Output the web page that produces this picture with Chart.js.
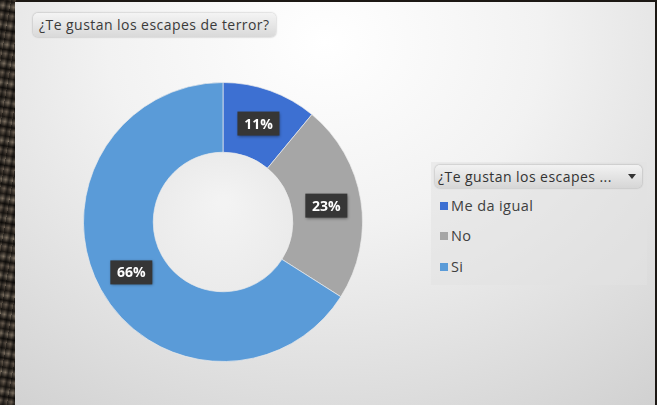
<!DOCTYPE html>
<html lang="es">
<head>
  <meta charset="UTF-8">
  <title>¿Te gustan los escapes de terror?</title>
  <script src="https://cdn.jsdelivr.net/npm/chart.js"></script>
  <style>
    html, body {
      margin: 0;
      padding: 0;
      width: 657px;
      height: 405px;
      overflow: hidden;
      background: #1c1814;
      font-family: "Open Sans", "Noto Sans", sans-serif;
    }
    #marco {
      position: absolute;
      left: 0; top: 0;
      width: 16px; height: 405px;
      background:
        repeating-linear-gradient(100deg, rgba(0,0,0,0.5) 0px, rgba(0,0,0,0) 4px, rgba(0,0,0,0.6) 7px, rgba(0,0,0,0) 11px),
        repeating-linear-gradient(10deg, #2a241e 0px, #6b5f52 5px, #1a1612 9px, #7e7263 14px, #221d18 19px);
    }
    #hoja {
      position: absolute;
      left: 15px; top: 2px;
      width: 640px; height: 403px;
      background: radial-gradient(ellipse 620px 520px at 310px 40px, #ffffff 0%, #f2f2f2 35%, #dcdcdc 70%, #c9c9c9 100%);
    }
    #titulo {
      position: absolute;
      left: 18px; top: 11px;
      height: 24px;
      padding: 0 6px;
      line-height: 24px;
      font-size: 14px;
      letter-spacing: 0.45px;
      color: #3a3a3a;
      border-radius: 5px;
      background: linear-gradient(#f4f4f4, #d9d9d9);
      box-shadow: 0 0 2px rgba(0,0,0,0.35);
    }
    #caja {
      position: absolute;
      left: 68px; top: 80px;
      width: 280px; height: 280px;
    }
    #leyenda {
      position: absolute;
      left: 416px; top: 160px;
      width: 216px; height: 123px;
      background: rgba(225,225,225,0.55);
    }
    #cabecera {
      position: absolute;
      left: 4px; top: 3px;
      width: 207px; height: 23px;
      line-height: 23px;
      font-size: 14px;
      letter-spacing: 0.45px;
      color: #333;
      border-radius: 5px;
      background: linear-gradient(#f2f2f2, #d6d6d6);
      box-shadow: 0 0 2px rgba(0,0,0,0.35);
      box-sizing: border-box;
      padding-left: 3px;
      white-space: nowrap;
    }
    #cabecera .flecha {
      position: absolute;
      right: 6px; top: 9px;
      width: 0; height: 0;
      border-left: 4px solid transparent;
      border-right: 4px solid transparent;
      border-top: 5px solid #333;
    }
    .item {
      position: absolute;
      left: 9px;
      font-size: 14.5px;
      letter-spacing: 0.4px;
      color: #404040;
      line-height: 18px;
    }
    .item span.cuadro {
      display: inline-block;
      width: 8px; height: 8px;
      margin-right: 3px;
      vertical-align: 1px;
    }
  </style>
</head>
<body>
  <div id="marco"></div>
  <div id="hoja">
    <div id="titulo">¿Te gustan los escapes de terror?</div>
    <div id="caja"><canvas id="grafico"></canvas></div>
    <div id="leyenda">
      <div id="cabecera">¿Te gustan los escapes ... <span class="flecha"></span></div>
    </div>
  </div>

  <script>
    const categorias = ['Me da igual', 'No', 'Si'];
    const porcentajes = [11, 23, 66];
    const colores = ['#3d70d2', '#a6a6a6', '#5a9bd8'];

    // etiquetas oscuras en el centro de cada sector
    const etiquetasPlugin = {
      id: 'etiquetas',
      afterDatasetsDraw(chart) {
        const c = chart.ctx;
        const arcos = chart.getDatasetMeta(0).data;
        c.save();
        c.font = 'bold 14px "Open Sans", "Noto Sans", sans-serif';
        c.textAlign = 'center';
        c.textBaseline = 'middle';
        arcos.forEach((arco, i) => {
          const p = arco.tooltipPosition();
          const texto = porcentajes[i] + '%';
          const w = 42, h = 24;
          c.shadowColor = 'rgba(0,0,0,0.45)';
          c.shadowBlur = 3;
          c.shadowOffsetX = 1;
          c.shadowOffsetY = 1;
          c.fillStyle = '#363636';
          c.fillRect(p.x - w / 2, p.y - h / 2, w, h);
          c.shadowColor = 'transparent';
          c.fillStyle = '#ffffff';
          c.fillText(texto, p.x, p.y + 1);
        });
        c.restore();
      }
    };

    // agujero central claro
    const agujeroPlugin = {
      id: 'agujero',
      beforeDatasetsDraw(chart) {
        const arco = chart.getDatasetMeta(0).data[0];
        if (!arco) return;
        const c = chart.ctx;
        const g = c.createRadialGradient(arco.x, arco.y - 20, 5, arco.x, arco.y, arco.innerRadius);
        g.addColorStop(0, '#f3f3f3');
        g.addColorStop(1, '#ebebeb');
        c.save();
        c.beginPath();
        c.arc(arco.x, arco.y, arco.innerRadius, 0, Math.PI * 2);
        c.fillStyle = g;
        c.fill();
        c.restore();
      }
    };

    const grafico = new Chart(document.getElementById('grafico'), {
      type: 'doughnut',
      data: {
        labels: categorias,
        datasets: [{
          data: porcentajes,
          backgroundColor: colores,
          borderColor: 'rgba(235,235,235,0.7)',
          borderWidth: 1,
          hoverOffset: 0
        }]
      },
      options: {
        responsive: true,
        maintainAspectRatio: false,
        animation: false,
        cutout: '50%',
        layout: { padding: 0 },
        plugins: {
          legend: { display: false },
          tooltip: { enabled: false }
        }
      },
      plugins: [agujeroPlugin, etiquetasPlugin]
    });

    // leyenda hecha con los mismos datos
    const leyenda = document.getElementById('leyenda');
    const posY = [35, 65, 96];
    categorias.forEach((cat, i) => {
      const d = document.createElement('div');
      d.className = 'item';
      d.style.top = posY[i] + 'px';
      d.innerHTML = '<span class="cuadro" style="background:' + colores[i] + '"></span>' + cat;
      leyenda.appendChild(d);
    });
  </script>
</body>
</html>
